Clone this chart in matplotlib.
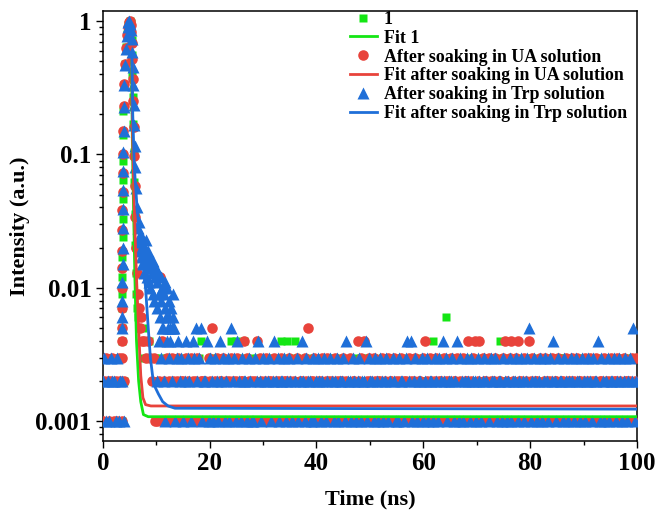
import numpy as np
import matplotlib
matplotlib.use("Agg")
import matplotlib.pyplot as plt
from matplotlib.ticker import FixedLocator, FixedFormatter, LogLocator, MultipleLocator, NullFormatter

plt.rcParams["font.family"] = ["Liberation Serif", "DejaVu Serif"]
plt.rcParams["font.weight"] = "bold"

PEAK_COUNTS = 1000.0   # normalisation (counts in peak channel)

# ---------------- decay region (rise, peak and early tail) ----------------
t_peak_1 = [3.58, 3.60, 3.62, 3.64, 3.66, 3.68, 3.70, 3.72, 3.74, 3.76, 3.79, 3.82, 3.86,
            4.00, 4.20, 4.40, 4.60, 4.80, 5.00, 5.20, 5.30, 5.40, 5.48, 5.55, 5.62, 5.70,
            5.78, 5.86, 5.95, 6.05, 6.15, 6.30, 6.45, 6.60, 6.80, 7.00, 7.25, 7.50, 7.75,
            8.00, 8.30, 8.60, 8.90, 9.30, 9.70, 11.3]
c_peak_1 = [4, 5, 7, 9, 12, 17, 24, 33, 46, 64, 90, 140, 210,
            330, 480, 640, 800, 930, 1000, 960, 870, 720, 560, 400, 270, 170,
            105, 62, 36, 21, 13, 9, 7, 6, 5, 6, 4, 5, 3,
            4, 3, 4, 3, 2, 3, 10]

t_peak_ua = [3.50, 3.52, 3.54, 3.56, 3.58, 3.60, 3.62, 3.64, 3.66, 3.69, 3.72, 3.75, 3.79,
             3.90, 4.05, 4.20, 4.35, 4.50, 4.65, 4.85, 5.05, 5.25, 5.35, 5.45, 5.53, 5.61,
             5.70, 5.79, 5.88, 5.98, 6.08, 6.20, 6.35, 6.50, 6.70, 6.90, 7.10, 7.40, 7.70,
             8.00, 8.40, 8.80, 9.20, 9.60, 9.80, 10.7]
c_peak_ua = [3, 4, 5, 7, 10, 14, 19, 27, 38, 52, 72, 100, 150,
             230, 340, 480, 630, 780, 900, 980, 1000, 940, 830, 680, 520, 370,
             250, 160, 98, 58, 34, 20, 13, 9, 7, 5, 6, 4, 4,
             3, 4, 3, 2, 3, 1, 12]

t_peak_trp = [3.62, 3.64, 3.66, 3.68, 3.70, 3.72, 3.74, 3.76, 3.78, 3.81, 3.84, 3.88, 3.93,
              4.05, 4.20, 4.35, 4.50, 4.65, 4.80, 4.95, 5.10, 5.25, 5.38, 5.50, 5.60, 5.70,
              5.80, 5.90, 6.00, 6.10, 6.22, 6.35,
              6.50, 6.62, 6.75, 6.88, 7.00, 7.12, 7.25, 7.38, 7.50, 7.62, 7.75, 7.88, 8.00,
              8.12, 8.25, 8.38, 8.50, 8.62, 8.75, 8.88, 9.00, 9.15, 9.30, 9.45, 9.60, 9.75,
              9.90, 10.05, 10.2, 10.35, 10.5, 10.65, 10.8, 10.95, 11.1, 11.25, 11.4, 11.55,
              11.7, 11.85, 12.0, 12.15, 12.3, 12.45, 12.6, 12.75, 12.9, 13.05, 13.2, 13.4]
c_peak_trp = [5, 6, 8, 11, 15, 20, 28, 39, 54, 75, 105, 150, 225,
              330, 470, 620, 770, 900, 980, 1000, 950, 860, 730, 590, 450, 330,
              235, 165, 115, 80, 56, 40,
              28, 22, 31, 19, 25, 17, 24, 15, 21, 18, 13, 20, 16,
              23, 12, 19, 14, 11, 17, 10, 15, 13, 9, 16, 8, 12,
              14, 7, 11, 13, 9, 6, 12, 8, 10, 5, 9, 11,
              7, 6, 10, 5, 8, 6, 4, 7, 5, 9, 6, 5]

# ---------------- background before the pulse (0.3 ns channels from 0 ns) --------------
T_PRE0, DT = 0.0, 0.3
pre_1 = "21232123122312"
pre_ua = "12321231213212"
pre_trp = "23121322131221"

# ---------------- background after the pulse (0.3 ns channels from 10.2 ns) ------------
T_BASE0 = 10.2
base_1 = ("213212312212312213122132123412"
          "122312132213212241342132412231"
          "213212231212312214231422314212"
          "123122132122132123123121321221"
          "212312132213212321212312213212"
          "123212132121321223121242312213"
          "612231213212312213124213221321"
          "213142231212321312213212312213"
          "132213121231313212231213221312"
          "212312213123122132121321231223")
base_ua = ("121421321321231221321321231221"
           "213251231223121232123122413212"
           "124132123122132123122132120312"
           "213251223121231232121321223121"
           "312214231412321321223121322132"
           "123122132123122134213212312213"
           "212312231213224123412413221321"
           "231221342134213422132142312213"
           "123212312231221321232132212312"
           "321231221321231223121322123123")
base_trp = ("243521435251342312432143523512"
            "241321321423123152314213221321"
            "132421320231242312231232102312"
            "421322131232123120321231223142"
            "213212312241322132132123120321"
            "132213424123122312312213213242"
            "312231241321232132213212320132"
            "231221321231223123212351232123"
            "123213242132213212321322132123"
            "213224132123122312321231232512")

# ---------------- fitted decay curves ----------------
fit_t_1 = [5.40, 5.50, 5.70, 6.00, 6.30, 6.70, 7.10, 7.60, 8.50, 100.0]
fit_y_1 = [0.50, 0.15, 0.05, 0.012, 0.004, 0.002, 0.0014, 0.00112, 0.00108, 0.00108]
fit_t_ua = [5.45, 5.55, 5.80, 6.30, 6.80, 7.10, 7.50, 8.00, 9.00, 100.0]
fit_y_ua = [0.50, 0.15, 0.05, 0.012, 0.004, 0.0022, 0.0015, 0.00133, 0.0013, 0.0013]
fit_t_trp = [5.45, 5.60, 5.90, 6.40, 7.00, 7.60, 8.00, 8.50, 8.90, 9.50, 10.4, 11.2, 12.2,
             13.5, 100.0]
fit_y_trp = [0.55, 0.20, 0.08, 0.04, 0.022, 0.014, 0.010, 0.005, 0.003, 0.0019, 0.0016,
             0.0014, 0.0013, 0.00125, 0.00123]

labels = ["1", "Fit 1", "After soaking in UA solution", "Fit after soaking in UA solution",
          "After soaking in Trp solution", "Fit after soaking in Trp solution"]

GREEN = "#14e614"
RED = "#e8433b"
BLUE = "#1f6fd8"


def series(t_peak, c_peak, pre, base):
    """Assemble time / intensity arrays; zero-count channels are not drawn on a log axis."""
    pre_c = np.array([int(ch) for ch in pre], float)
    base_c = np.array([int(ch) for ch in base], float)
    t_pre = T_PRE0 + DT * np.arange(pre_c.size)
    t_base = T_BASE0 + DT * np.arange(base_c.size)
    t = np.concatenate([t_pre, np.asarray(t_peak, float), t_base])
    c = np.concatenate([pre_c, np.asarray(c_peak, float), base_c])
    keep = c > 0
    return t[keep], c[keep] / PEAK_COUNTS


fig = plt.figure(figsize=(6.55, 5.15), dpi=100)
ax = fig.add_axes([0.157, 0.1437, 0.8155, 0.835])

t1, y1 = series(t_peak_1, c_peak_1, pre_1, base_1)
tu, yu = series(t_peak_ua, c_peak_ua, pre_ua, base_ua)
tt, yt = series(t_peak_trp, c_peak_trp, pre_trp, base_trp)

h_s1, = ax.plot(t1, y1, ls="none", marker="s", ms=6.4, color=GREEN, mec="none", zorder=2)
h_su, = ax.plot(tu, yu, ls="none", marker="o", ms=7.6, color=RED, mec="none", zorder=3)
h_st, = ax.plot(tt, yt, ls="none", marker="^", ms=8.2, color=BLUE, mec="none", zorder=4)

h_f1, = ax.plot(fit_t_1, fit_y_1, color=GREEN, lw=2.0, zorder=5)
h_fu, = ax.plot(fit_t_ua, fit_y_ua, color=RED, lw=2.0, zorder=5)
h_ft, = ax.plot(fit_t_trp, fit_y_trp, color=BLUE, lw=2.0, zorder=6)

ax.set_yscale("log")
ax.set_xlim(0, 100)
ax.set_ylim(0.00071, 1.19)

ax.xaxis.set_major_locator(MultipleLocator(20))
ax.xaxis.set_minor_locator(MultipleLocator(10))
ax.yaxis.set_major_locator(FixedLocator([0.001, 0.01, 0.1, 1]))
ax.yaxis.set_major_formatter(FixedFormatter(["0.001", "0.01", "0.1", "1"]))
ax.yaxis.set_minor_locator(LogLocator(base=10, subs=np.arange(2, 10)))
ax.yaxis.set_minor_formatter(NullFormatter())

ax.tick_params(which="major", direction="out", length=5, width=1.0, labelsize=18, pad=3)
ax.tick_params(which="minor", direction="out", length=3, width=1.0)
for lab in ax.get_xticklabels() + ax.get_yticklabels():
    lab.set_fontweight("bold")
for sp in ax.spines.values():
    sp.set_linewidth(1.1)

ax.set_xlabel("Time (ns)", fontsize=16, fontweight="bold", labelpad=10)
ax.set_ylabel("Intensity (a.u.)", fontsize=16, fontweight="bold", labelpad=4)

leg = ax.legend([h_s1, h_f1, h_su, h_fu, h_st, h_ft], labels, loc="upper right",
                bbox_to_anchor=(0.981, 1.0), frameon=False, fontsize=12.9, numpoints=1,
                handlelength=1.5, handletextpad=0.4, labelspacing=0.1,
                borderaxespad=0.0, borderpad=0.0)
for txt in leg.get_texts():
    txt.set_fontweight("bold")

fig.savefig("out.png", dpi=100)
